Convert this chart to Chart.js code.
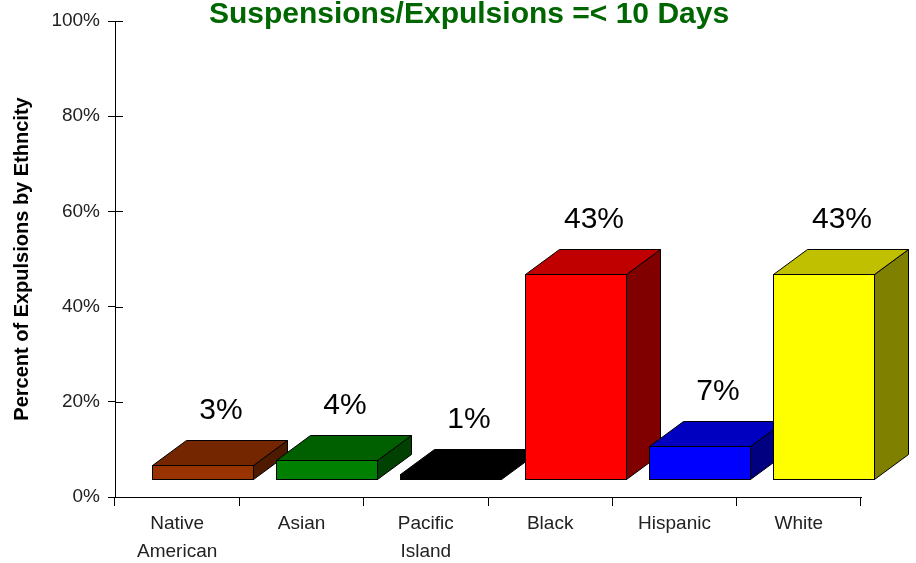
<!DOCTYPE html>
<html>
<head>
<meta charset="utf-8">
<script src="https://cdn.jsdelivr.net/npm/chart.js@4.4.1/dist/chart.umd.min.js"></script>
<style>
  html, body { margin: 0; padding: 0; background: #fff; }
  #wrap { width: 916px; height: 563px; }
</style>
</head>
<body>
<div id="wrap"><canvas id="chart" width="916" height="563"></canvas></div>
<script>
const categories = [['Native', 'American'], 'Asian', ['Pacific', 'Island'], 'Black', 'Hispanic', 'White'];
const percents = [3, 4, 1, 43, 7, 43];
const frontColors = ['#993300', '#008000', '#000000', '#ff0000', '#0000ff', '#ffff00'];
const topColors = ['#732600', '#006000', '#000000', '#c00000', '#0000c0', '#c0c000'];
const sideColors = ['#4d1a00', '#004000', '#000000', '#800000', '#000080', '#808000'];
const yTicks = [0, 20, 40, 60, 80, 100];

// 3d box geometry (pixels)
const SHIFT_X = 25;
const LIFT = 18;
const DEPTH_X = 34;
const DEPTH_Y = -25;

const boxes3d = {
	id: 'boxes3d',
	afterDatasetsDraw(chart) {
		const ctx = chart.ctx;
		const meta = chart.getDatasetMeta(0);
		ctx.save();
		ctx.lineWidth = 1;
		ctx.strokeStyle = '#000';
		ctx.lineJoin = 'miter';
		meta.data.forEach((bar, i) => {
			const l = Math.round(bar.x - bar.width / 2 + SHIFT_X) + 0.5;
			const r = Math.round(bar.x + bar.width / 2 + SHIFT_X) + 0.5;
			const t = Math.round(bar.y - LIFT) + 0.5;
			const b = Math.round(bar.base - LIFT) + 0.5;

			// side face
			ctx.beginPath();
			ctx.moveTo(r, b);
			ctx.lineTo(r + DEPTH_X, b + DEPTH_Y);
			ctx.lineTo(r + DEPTH_X, t + DEPTH_Y);
			ctx.lineTo(r, t);
			ctx.closePath();
			ctx.fillStyle = sideColors[i];
			ctx.fill();
			ctx.stroke();

			// top face
			ctx.beginPath();
			ctx.moveTo(l, t);
			ctx.lineTo(l + DEPTH_X, t + DEPTH_Y);
			ctx.lineTo(r + DEPTH_X, t + DEPTH_Y);
			ctx.lineTo(r, t);
			ctx.closePath();
			ctx.fillStyle = topColors[i];
			ctx.fill();
			ctx.stroke();

			// front face
			ctx.fillStyle = frontColors[i];
			ctx.fillRect(l, t, r - l, b - t);
			ctx.strokeRect(l, t, r - l, b - t);

			// value label
			ctx.fillStyle = '#000';
			ctx.font = '30px "Liberation Sans", Arial, sans-serif';
			ctx.textAlign = 'center';
			ctx.textBaseline = 'middle';
			ctx.fillText(percents[i] + '%', (l + r + DEPTH_X) / 2 + 1, t + DEPTH_Y - 30);
		});
		ctx.restore();
	},
	afterDraw(chart) {
		const ctx = chart.ctx;
		const y = chart.scales.y;
		ctx.save();
		// inner half of the crossing y ticks
		ctx.strokeStyle = '#000';
		ctx.lineWidth = 1;
		yTicks.forEach((v) => {
			const py = Math.round(y.getPixelForValue(v)) + 0.5;
			ctx.beginPath();
			ctx.moveTo(y.right, py);
			ctx.lineTo(y.right + 8, py);
			ctx.stroke();
		});
		// chart title
		ctx.fillStyle = '#006600';
		ctx.font = 'bold 30px "Liberation Sans", Arial, sans-serif';
		ctx.textAlign = 'center';
		ctx.textBaseline = 'middle';
		ctx.fillText('Suspensions/Expulsions =< 10 Days', 469, 15);
		ctx.restore();
	}
};

new Chart(document.getElementById('chart'), {
	type: 'bar',
	data: {
		labels: categories,
		datasets: [
			{
				data: percents,
				backgroundColor: 'rgba(0,0,0,0)',
				borderWidth: 0,
				barPercentage: 0.8125,
				categoryPercentage: 1,
			},
		],
	},
	options: {
		responsive: false,
		animation: false,
		events: [],
		layout: { padding: { left: 0, right: 55, top: 21, bottom: 0 } },
		plugins: {
			legend: { display: false },
			tooltip: { enabled: false },
		},
		scales: {
			x: {
				offset: true,
				grid: {
					offset: true,
					drawOnChartArea: false,
					color: '#000',
					tickLength: 9,
				},
				border: { color: '#000', width: 1 },
				ticks: {
					color: '#222',
					font: { family: '"Liberation Sans", Arial, sans-serif', size: 19, lineHeight: 1.47 },
					padding: 4,
					maxRotation: 0,
					autoSkip: false,
				},
				afterFit(scale) {
					scale.height = 66;
				},
			},
			y: {
				min: 0,
				max: 100,
				afterBuildTicks(scale) {
					scale.ticks = yTicks.map((v) => ({ value: v }));
				},
				grid: {
					drawOnChartArea: false,
					color: '#000',
					tickLength: 7,
				},
				border: { color: '#000', width: 1 },
				ticks: {
					color: '#222',
					font: { family: '"Liberation Sans", Arial, sans-serif', size: 19 },
					padding: 8,
					callback: (v) => v + '%',
				},
				title: {
					display: true,
					text: 'Percent of Expulsions by Ethncity',
					color: '#000',
					font: { family: '"Liberation Sans", Arial, sans-serif', size: 20, weight: 'bold' },
					padding: { top: 10, bottom: 0 },
				},
				afterFit(scale) {
					scale.width = 115;
				},
			},
		},
	},
	plugins: [boxes3d],
});
</script>
</body>
</html>
